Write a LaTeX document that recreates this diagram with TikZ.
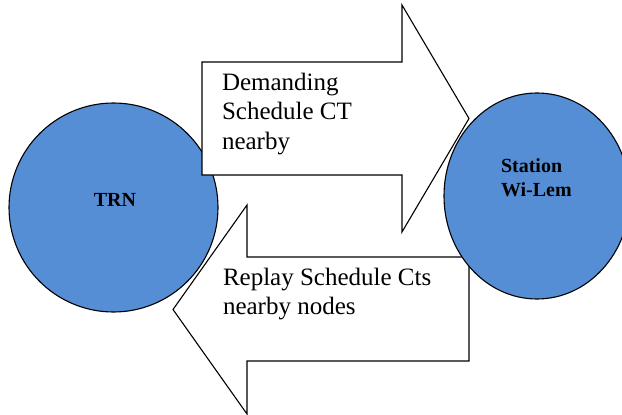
\documentclass[tikz,border=0pt]{standalone}
\usepackage{fontspec}
\setmainfont{Liberation Serif}
\usetikzlibrary{positioning,shapes.geometric}
\definecolor{NodeBlue}{RGB}{85,142,213}

\begin{document}
\begin{tikzpicture}[x=1pt, y=-1pt, line width=1.1pt,
  every node/.style={inner sep=0pt, outer sep=0pt},
  blob/.style={draw, fill=NodeBlue},
  block/.style={draw, fill=white, line join=miter},
  msg/.style={align=left, anchor=north west, font=\fontsize{25}{29.5}\selectfont},
  tag/.style={align=left, font=\fontsize{20}{24}\selectfont\bfseries}]
  \useasboundingbox (0,0) rectangle (622,415);
  \node[blob, circle, minimum size=209pt] (trn) at (113.5,207.5) {};
  \node[tag] (trntext) at (115,200) {TRN};
  \draw[block] (202,62) -- (402,62) -- (402,5) -- (469,118.5) -- (402,232) -- (402,175) -- (202,175) -- cycle;
  \node[msg] (ask) at (222,73) {Demanding\\Schedule CT\\nearby};
  \draw[block] (469,257) -- (247,257) -- (247,205) -- (173,309.5) -- (247,414) -- (247,361) -- (469,361) -- cycle;
  \node[msg] (reply) at (223,268) {Replay Schedule Cts\\nearby nodes};
  \node[blob, ellipse, minimum width=186pt, minimum height=206pt] (station) at (537,196) {};
  \node[tag, anchor=north west] (stationtext) at (501,158.3) {Station\\Wi-Lem};
\end{tikzpicture}
\end{document}
